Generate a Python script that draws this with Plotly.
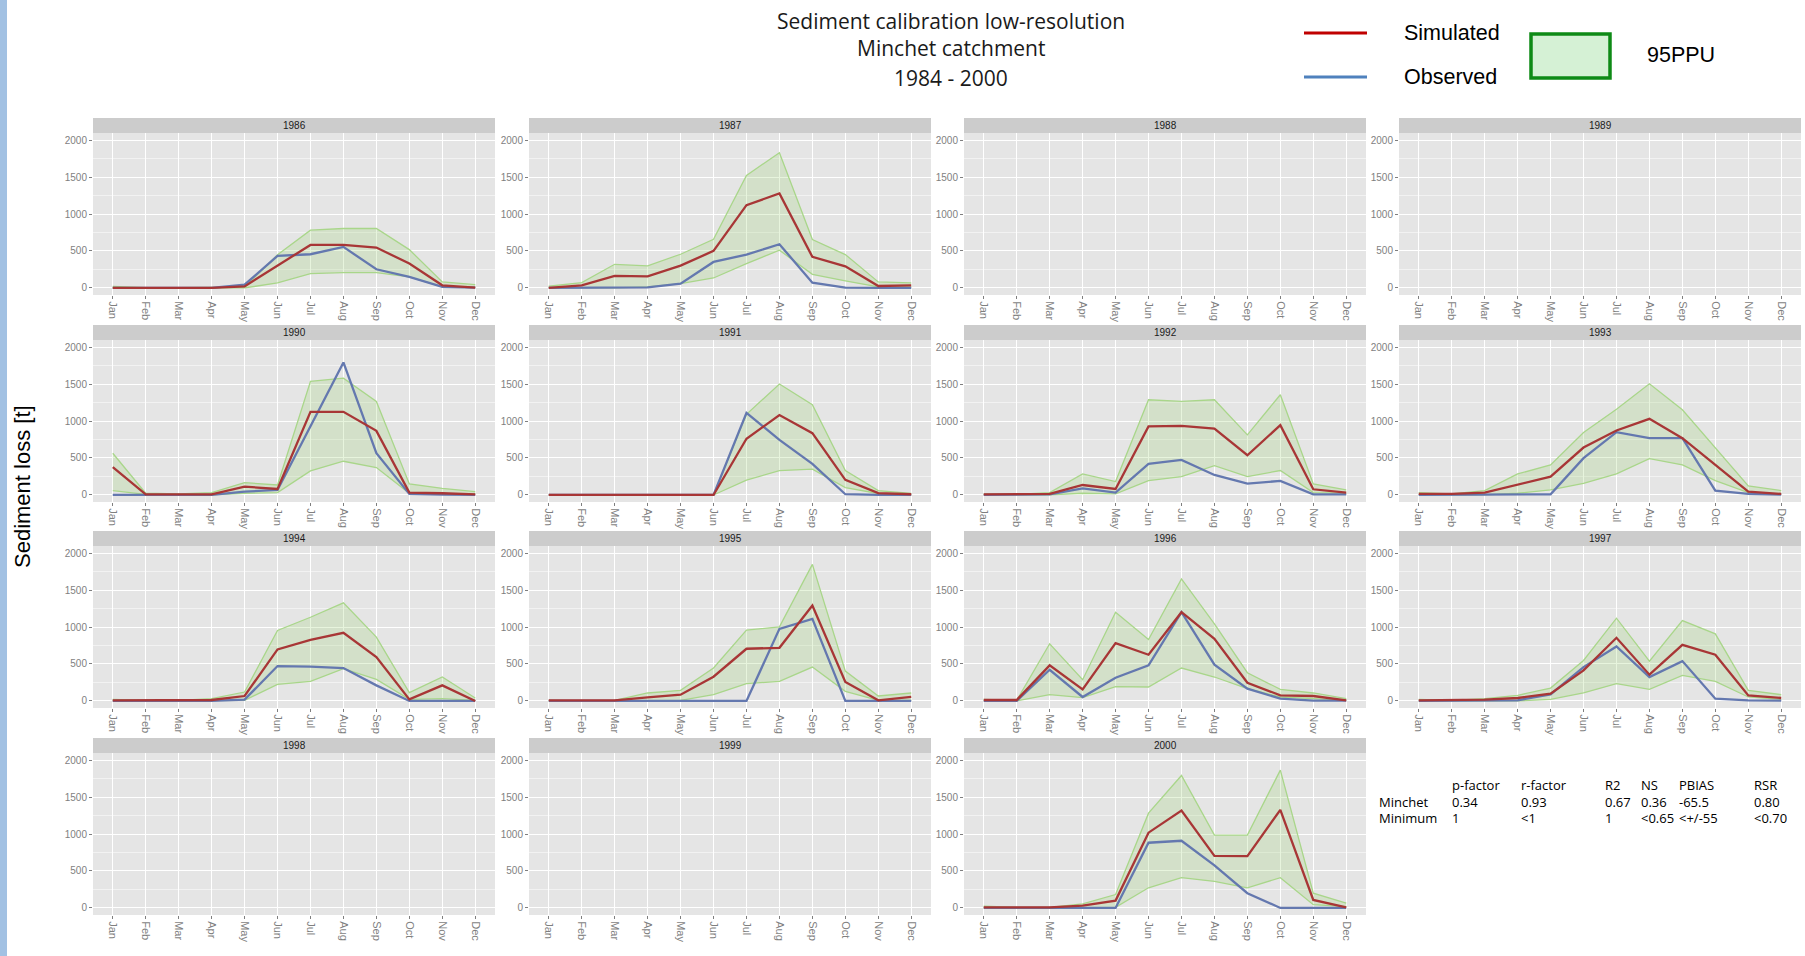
import plotly.graph_objects as go

months = ["Jan", "Feb", "Mar", "Apr", "May", "Jun", "Jul", "Aug", "Sep", "Oct", "Nov", "Dec"]
month_idx = list(range(12))
y_ticks = [0, 500, 1000, 1500, 2000]
y_minor = [250, 750, 1250, 1750]

# ---- data (t per month) ----
sim_1986 = [0, 0, 0, 0, 22, 307, 582, 582, 546, 330, 36, 5]
obs_1986 = [0, 0, 0, 0, 45, 433, 456, 555, 253, 149, 14, 5]
lo_1986 = [0, 0, 0, 0, 0, 68, 194, 208, 208, 149, 14, 10]
up_1986 = [20, 5, 5, 5, 10, 450, 781, 804, 804, 519, 81, 45]

sim_1987 = [0, 36, 163, 158, 302, 501, 1120, 1278, 420, 293, 27, 36]
obs_1987 = [0, 0, 0, 9, 59, 352, 451, 591, 72, 5, 0, 0]
lo_1987 = [5, 0, 0, 14, 59, 135, 330, 510, 185, 95, 14, 14]
up_1987 = [23, 72, 320, 298, 456, 659, 1522, 1829, 655, 451, 81, 68]

sim_1990 = [375, 9, 9, 9, 113, 81, 1124, 1124, 867, 32, 23, 9]
obs_1990 = [0, 0, 0, 0, 45, 68, 930, 1792, 564, 14, 5, 0]
lo_1990 = [59, 9, 0, 0, 23, 32, 325, 456, 370, 23, 14, 14]
up_1990 = [564, 23, 14, 32, 167, 135, 1535, 1580, 1264, 149, 90, 45]

sim_1991 = [0, 0, 0, 0, 0, 0, 760, 1080, 835, 205, 25, 10]
obs_1991 = [0, 0, 0, 0, 0, 0, 1110, 745, 420, 10, 0, 0]
lo_1991 = [0, 0, 0, 0, 0, 0, 200, 330, 350, 100, 20, 0]
up_1991 = [0, 0, 0, 0, 0, 0, 1090, 1500, 1220, 330, 60, 20]

sim_1992 = [9, 9, 14, 135, 81, 926, 935, 898, 537, 944, 77, 32]
obs_1992 = [0, 0, 9, 90, 32, 420, 474, 271, 154, 190, 9, 9]
lo_1992 = [0, 0, 0, 23, 14, 194, 248, 397, 248, 330, 32, 23]
up_1992 = [14, 9, 32, 284, 181, 1287, 1264, 1287, 813, 1355, 149, 68]

sim_1993 = [14, 14, 32, 144, 248, 641, 871, 1029, 768, 406, 45, 14]
obs_1993 = [0, 0, 5, 9, 9, 497, 849, 768, 768, 59, 14, 5]
lo_1993 = [0, 0, 0, 23, 68, 158, 284, 492, 406, 194, 32, 14]
up_1993 = [32, 14, 59, 284, 406, 844, 1160, 1504, 1151, 632, 122, 59]

sim_1994 = [9, 9, 9, 13, 67, 697, 827, 921, 593, 22, 211, 0]
obs_1994 = [0, 0, 0, 0, 18, 472, 463, 445, 211, 0, 0, 0]
lo_1994 = [0, 0, 0, 0, 9, 225, 265, 436, 292, 22, 31, 9]
up_1994 = [22, 9, 9, 31, 121, 953, 1132, 1326, 863, 112, 324, 40]

sim_1995 = [9, 5, 9, 49, 85, 328, 706, 719, 1290, 256, 9, 54]
obs_1995 = [0, 0, 0, 0, 0, 0, 0, 975, 1110, 0, 0, 0]
lo_1995 = [0, 0, 0, 0, 9, 85, 234, 265, 458, 130, 9, 9]
up_1995 = [9, 0, 9, 108, 144, 445, 957, 1002, 1847, 404, 67, 108]

sim_1996 = [13, 13, 481, 157, 782, 625, 1200, 840, 247, 76, 67, 9]
obs_1996 = [0, 0, 422, 54, 315, 481, 1200, 490, 166, 31, 5, 5]
lo_1996 = [0, 0, 85, 45, 193, 189, 445, 324, 166, 54, 31, 9]
up_1996 = [22, 9, 773, 288, 1200, 831, 1649, 1043, 382, 157, 108, 31]

sim_1997 = [9, 9, 18, 40, 99, 413, 854, 355, 759, 625, 76, 40]
obs_1997 = [0, 0, 9, 9, 90, 458, 737, 324, 539, 31, 9, 5]
lo_1997 = [0, 0, 0, 0, 22, 108, 234, 157, 346, 265, 54, 22]
up_1997 = [22, 9, 31, 76, 175, 548, 1119, 539, 1087, 908, 144, 85]

sim_2000 = [9, 9, 9, 32, 100, 1018, 1318, 705, 700, 1327, 109, 9]
obs_2000 = [0, 0, 0, 0, 0, 882, 909, 577, 200, 0, 0, 0]
lo_2000 = [0, 0, 0, 0, 9, 273, 409, 359, 273, 409, 45, 18]
up_2000 = [23, 9, 9, 55, 182, 1282, 1791, 985, 985, 1864, 200, 64]

panel_years = [[1986, 1987, 1988, 1989],
               [1990, 1991, 1992, 1993],
               [1994, 1995, 1996, 1997],
               [1998, 1999, 2000]]

year_data = {
    1986: (sim_1986, obs_1986, lo_1986, up_1986),
    1987: (sim_1987, obs_1987, lo_1987, up_1987),
    1990: (sim_1990, obs_1990, lo_1990, up_1990),
    1991: (sim_1991, obs_1991, lo_1991, up_1991),
    1992: (sim_1992, obs_1992, lo_1992, up_1992),
    1993: (sim_1993, obs_1993, lo_1993, up_1993),
    1994: (sim_1994, obs_1994, lo_1994, up_1994),
    1995: (sim_1995, obs_1995, lo_1995, up_1995),
    1996: (sim_1996, obs_1996, lo_1996, up_1996),
    1997: (sim_1997, obs_1997, lo_1997, up_1997),
    2000: (sim_2000, obs_2000, lo_2000, up_2000),
}

stat_headers = ["p-factor", "r-factor", "R2", "NS", "PBIAS", "RSR"]
stat_minchet = ["0.34", "0.93", "0.67", "0.36", "-65.5", "0.80"]
stat_minimum = ["1", "<1", "1", "<0.65", "<+/-55", "<0.70"]

# ---- geometry (pixels) ----
W, H = 1805, 956
col_x = [(93, 495), (529, 931), (964, 1366), (1399, 1801)]
row_y = [(133, 295), (340, 502), (546, 708), (753, 915)]
strip_h = 15

SIM_C = "#A83636"
OBS_C = "#6478AF"
RIB_LINE = "#A9D68A"
RIB_FILL = "rgba(160,210,120,0.25)"
TICK_C = "#7F7F7F"

fig = go.Figure()
layout = dict(
    width=W, height=H,
    margin=dict(l=0, r=0, t=0, b=0, autoexpand=False),
    paper_bgcolor="white",
    plot_bgcolor="#E5E5E5",
    showlegend=False,
)
shapes = []
annotations = []

k = 0
for r, row in enumerate(panel_years):
    for c, yr in enumerate(row):
        k += 1
        x0, x1 = col_x[c]
        y0, y1 = row_y[r]
        xa = "x" if k == 1 else f"x{k}"
        ya = "y" if k == 1 else f"y{k}"
        xkey = "xaxis" if k == 1 else f"xaxis{k}"
        ykey = "yaxis" if k == 1 else f"yaxis{k}"
        layout[xkey] = dict(
            domain=[x0 / W, x1 / W], anchor=ya, range=[-0.6, 11.6],
            tickmode="array", tickvals=month_idx, ticktext=months, tickangle=90,
            showgrid=True, gridcolor="white", gridwidth=1, zeroline=False,
            ticks="outside", ticklen=3, tickcolor=TICK_C, tickwidth=1,
            tickfont=dict(family="Liberation Sans, Arial", size=11, color=TICK_C),
            showline=False, fixedrange=True,
        )
        layout[ykey] = dict(
            domain=[1 - y1 / H, 1 - y0 / H], anchor=xa, range=[-95, 2095],
            tickmode="array", tickvals=y_ticks,
            showgrid=True, gridcolor="white", gridwidth=1, zeroline=False,
            ticks="outside", ticklen=3, tickcolor=TICK_C, tickwidth=1,
            tickfont=dict(family="Liberation Sans, Arial", size=10, color=TICK_C),
            minor=dict(tickvals=y_minor, showgrid=True, gridcolor="#F2F2F2", gridwidth=0.6, ticks=""),
            showline=False, fixedrange=True,
        )
        # strip
        shapes.append(dict(type="rect", xref="paper", yref="paper",
                           x0=x0 / W, x1=x1 / W, y0=1 - y0 / H, y1=1 - (y0 - strip_h) / H,
                           fillcolor="#CCCCCC", line=dict(width=0), layer="below"))
        annotations.append(dict(text=str(yr), xref="paper", yref="paper",
                                x=(x0 + x1) / 2 / W, y=1 - (y0 - strip_h / 2) / H,
                                showarrow=False, xanchor="center", yanchor="middle",
                                font=dict(family="Liberation Sans, Arial", size=10, color="#1A1A1A")))
        if yr in year_data:
            sim, obs, lo, up = year_data[yr]
            fig.add_trace(go.Scatter(x=month_idx, y=lo, xaxis=xa, yaxis=ya, mode="lines",
                                     line=dict(color=RIB_LINE, width=1.3), hoverinfo="skip"))
            fig.add_trace(go.Scatter(x=month_idx, y=up, xaxis=xa, yaxis=ya, mode="lines",
                                     line=dict(color=RIB_LINE, width=1.3), fill="tonexty",
                                     fillcolor=RIB_FILL, hoverinfo="skip"))
            fig.add_trace(go.Scatter(x=month_idx, y=obs, xaxis=xa, yaxis=ya, mode="lines",
                                     line=dict(color=OBS_C, width=2.3), name="Observed"))
            fig.add_trace(go.Scatter(x=month_idx, y=sim, xaxis=xa, yaxis=ya, mode="lines",
                                     line=dict(color=SIM_C, width=2.3), name="Simulated"))
        else:
            # empty facet: keep the panel and its axes
            fig.add_trace(go.Scatter(x=month_idx, y=[None] * 12, xaxis=xa, yaxis=ya,
                                     mode="lines", hoverinfo="skip"))

# left blue bar
shapes.append(dict(type="rect", xref="paper", yref="paper", x0=0, x1=7 / W, y0=0, y1=1,
                   fillcolor="#A2C1E3", line=dict(width=0)))

# title
title_font = dict(family="Open Sans, Noto Sans", size=21, color="#1A1A1A")
for txt, py in [("Sediment calibration low-resolution", 21),
                ("Minchet catchment", 48),
                ("1984 - 2000", 78)]:
    annotations.append(dict(text=txt, xref="paper", yref="paper", x=951 / W, y=1 - py / H,
                            showarrow=False, xanchor="center", yanchor="middle", font=title_font))

# y title
annotations.append(dict(text="Sediment loss [t]", xref="paper", yref="paper", x=22 / W, y=1 - 487 / H,
                        showarrow=False, xanchor="center", yanchor="middle", textangle=-90,
                        font=dict(family="Liberation Sans, Arial", size=22, color="#000000")))

# legend
leg_font = dict(family="Liberation Sans, Arial", size=21.5, color="#000000")
shapes.append(dict(type="line", xref="paper", yref="paper", x0=1304 / W, x1=1367 / W,
                   y0=1 - 33 / H, y1=1 - 33 / H, line=dict(color="#C00000", width=3)))
shapes.append(dict(type="line", xref="paper", yref="paper", x0=1304 / W, x1=1367 / W,
                   y0=1 - 77 / H, y1=1 - 77 / H, line=dict(color="#4F81BD", width=3)))
shapes.append(dict(type="rect", xref="paper", yref="paper", x0=1531 / W, x1=1610 / W,
                   y0=1 - 78 / H, y1=1 - 34 / H, fillcolor="#D5F1D5",
                   line=dict(color="#0E8A16", width=3.5)))
annotations.append(dict(text="Simulated", xref="paper", yref="paper", x=1402 / W, y=1 - 33 / H,
                        showarrow=False, xanchor="left", yanchor="middle", font=leg_font))
annotations.append(dict(text="Observed", xref="paper", yref="paper", x=1402 / W, y=1 - 77 / H,
                        showarrow=False, xanchor="left", yanchor="middle", font=leg_font))
annotations.append(dict(text="95PPU", xref="paper", yref="paper", x=1645 / W, y=1 - 55 / H,
                        showarrow=False, xanchor="left", yanchor="middle", font=leg_font))

# stats table
tab_font = dict(family="Open Sans, Noto Sans", size=13, color="#000000")
col_px = [1450, 1519, 1603, 1639, 1677, 1752]
row_px = [785, 802, 818]
annotations.append(dict(text="Minchet", xref="paper", yref="paper", x=1377 / W, y=1 - row_px[1] / H,
                        showarrow=False, xanchor="left", yanchor="middle", font=tab_font))
annotations.append(dict(text="Minimum", xref="paper", yref="paper", x=1377 / W, y=1 - row_px[2] / H,
                        showarrow=False, xanchor="left", yanchor="middle", font=tab_font))
for cx, h, v1, v2 in zip(col_px, stat_headers, stat_minchet, stat_minimum):
    for txt, py in [(h, row_px[0]), (v1, row_px[1]), (v2, row_px[2])]:
        annotations.append(dict(text=txt, xref="paper", yref="paper", x=cx / W, y=1 - py / H,
                                showarrow=False, xanchor="left", yanchor="middle", font=tab_font))

layout["shapes"] = shapes
layout["annotations"] = annotations
fig.update_layout(**layout)
fig.write_html(
    "out.html",
    config={"displayModeBar": False},
    post_script="document.body.style.margin='0';document.body.style.overflow='hidden';",
)
